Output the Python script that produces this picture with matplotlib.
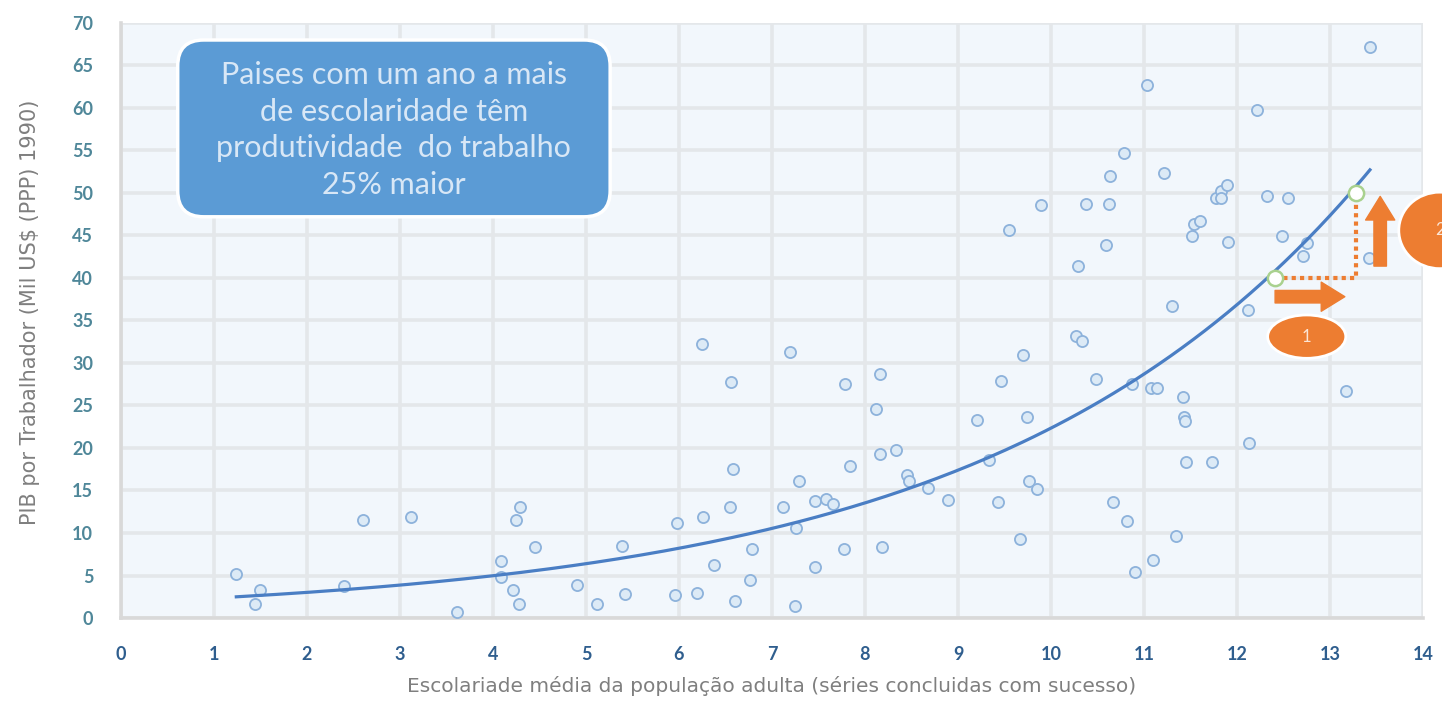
import matplotlib
matplotlib.use("Agg")
import matplotlib.pyplot as plt
import numpy as np
from matplotlib.patches import FancyBboxPatch, Ellipse

plt.rcParams["font.family"] = ["Lato", "DejaVu Sans"]

# escolaridade média (anos) x PIB por trabalhador (mil US$)
schooling = [1.24, 1.44, 1.50, 2.40, 2.60, 3.12, 3.61, 4.09, 4.09, 4.22, 4.25, 4.29, 4.28,
             4.45, 4.90, 5.12, 5.39, 5.42, 5.96, 5.98, 6.19, 6.25, 6.26, 6.38, 6.55, 6.56,
             6.58, 6.60, 6.76, 6.78, 7.12, 7.19, 7.26, 7.25, 7.29, 7.46, 7.46, 7.58, 7.66,
             7.77, 7.78, 7.84, 8.12, 8.16, 8.16, 8.18, 8.33, 8.45, 8.47, 8.68, 8.89, 9.20,
             9.33, 9.43, 9.46, 9.55, 9.67, 9.70, 9.74, 9.76, 9.85, 9.89, 10.29, 10.27, 10.33,
             10.38, 10.48, 10.59, 10.62, 10.63, 10.67, 10.78, 10.82, 10.87, 10.90, 11.03,
             11.08, 11.10, 11.14, 11.22, 11.30, 11.34, 11.42, 11.43, 11.44, 11.45, 11.52,
             11.54, 11.60, 11.73, 11.77, 11.83, 11.83, 11.89, 11.90, 12.12, 12.13, 12.22,
             12.32, 12.48, 12.55, 12.71, 12.75, 13.17, 13.42, 13.43]
gdp_worker = [5.2, 1.6, 3.3, 3.8, 11.5, 11.9, 0.7, 6.7, 4.8, 3.3, 11.5, 13.1, 1.6,
              8.4, 3.9, 1.6, 8.5, 2.8, 2.7, 11.2, 2.9, 32.2, 11.9, 6.2, 13.1, 27.8,
              17.5, 2.0, 4.5, 8.1, 13.1, 31.3, 10.6, 1.4, 16.1, 6.0, 13.8, 14.0, 13.4,
              8.1, 27.5, 17.9, 24.6, 28.7, 19.3, 8.4, 19.8, 16.8, 16.1, 15.3, 13.9, 23.3,
              18.6, 13.6, 27.9, 45.6, 9.3, 30.9, 23.6, 16.1, 15.2, 48.6, 41.4, 33.2, 32.6,
              48.7, 28.1, 43.9, 48.7, 52.0, 13.6, 54.7, 11.4, 27.5, 5.4, 62.7,
              27.1, 6.8, 27.1, 52.4, 36.7, 9.6, 26.0, 23.6, 23.2, 18.4, 44.9,
              46.4, 46.7, 18.4, 49.4, 50.2, 49.4, 50.9, 44.2, 36.2, 20.6, 59.8,
              49.6, 44.9, 49.4, 42.6, 44.1, 26.7, 42.4, 67.2]

# pontos de destaque (um ano a mais -> +25%)
hl_x = [12.41, 13.28]
hl_y = [40.0, 50.0]
box_text = "Paises com um ano a mais\nde escolaridade têm\nprodutividade  do trabalho\n25% maior"

xticks = np.arange(0, 15, 1)
yticks = np.arange(0, 75, 5)

orange = "#ED7D31"
x = np.array(schooling)
y = np.array(gdp_worker)

fig = plt.figure(figsize=(14.42, 7.01), dpi=100)
ax = fig.add_axes([0.0839, 0.1184, 0.9029, 0.8488])
ax.set_facecolor("#F2F7FC")
ax.set_xlim(0, 14)
ax.set_ylim(0, 70)
ax.set_xticks(xticks)
ax.set_yticks(yticks)
ax.grid(True, color="#E4E7EA", lw=2.6, zorder=0)
ax.set_axisbelow(True)
for s in ["top", "right"]:
    ax.spines[s].set_visible(False)
for s in ["left", "bottom"]:
    ax.spines[s].set_color("#D9D9D9")
    ax.spines[s].set_linewidth(2.6)
ax.tick_params(length=0)
ax.tick_params(axis="x", pad=20, labelsize=13, labelcolor="#2F5E8E")
ax.tick_params(axis="y", pad=20, labelsize=13, labelcolor="#4F8799")
for lab in ax.get_xticklabels() + ax.get_yticklabels():
    lab.set_fontweight("bold")

lab_font = ["DejaVu Sans"]
ax.set_xlabel("Escolariade média da população adulta (séries concluidas com sucesso)",
              fontsize=14.5, color="#7F7F7F", family=lab_font)
ax.set_ylabel("PIB por Trabalhador (Mil US$ (PPP) 1990)", fontsize=15, color="#7F7F7F",
              family=lab_font)
ax.xaxis.set_label_coords(0.5, -0.097)
ax.yaxis.set_label_coords(-0.062, 0.514)

ax.plot(x, y, "o", ms=8, mfc="#DCEAF6", mec="#8DB2DB", mew=1.3, zorder=3)

# linha de tendência exponencial (ajuste log-linear, como no Excel)
b, lna = np.polyfit(x, np.log(y), 1)
xt = np.linspace(x.min(), x.max(), 200)
ax.plot(xt, np.exp(lna) * np.exp(b * xt), color="#4A7EC4", lw=2.3, zorder=4)

# caixa de texto
x_per_px = 14 / (1442 * 0.9029)
y_per_px = 70 / (701 * 0.8488)
box = FancyBboxPatch((0.61, 47.2), 4.65, 20.8,
                     boxstyle="round,pad=0,rounding_size=%f" % (26 * x_per_px),
                     mutation_aspect=y_per_px / x_per_px,
                     fc="#5B9BD5", ec="white", lw=2.5, zorder=5)
ax.add_patch(box)
ax.text(0.61 + 4.65 / 2, 47.2 + 20.8 / 2 - 0.2, box_text, ha="center", va="center",
        fontsize=22, color="#D8E7F6", linespacing=1.38, zorder=6)

# anotações laranja
ax.plot([hl_x[0], hl_x[1], hl_x[1]], [hl_y[0], hl_y[0], hl_y[1]], color=orange,
        lw=3, ls=(0, (1, 1)), zorder=5)
ax.plot(hl_x, hl_y, "o", ms=11, mfc="white", mec="#A9D18E", mew=1.8, zorder=6)
arrow = dict(arrowstyle="simple,head_width=2.1,head_length=1.7,tail_width=0.9",
             color=orange, mutation_scale=10, shrinkA=0, shrinkB=0)
ax.annotate("", xy=(13.16, 37.8), xytext=(12.41, 37.8), arrowprops=arrow, zorder=6)
ax.annotate("", xy=(13.54, 49.6), xytext=(13.54, 41.4), arrowprops=arrow, zorder=6)

for cx, cy, w, h, lbl in [(12.75, 33.1, 0.84, 5.1, "1"), (14.18, 45.6, 0.88, 9.0, "2")]:
    e = Ellipse((cx, cy), w, h, fc=orange, ec="white", lw=2, zorder=7, clip_on=False)
    ax.add_patch(e)
    ax.text(cx, cy, lbl, ha="center", va="center", fontsize=12, color="#FBE5D6",
            zorder=8, clip_on=False)

fig.savefig("out.png", dpi=100)
